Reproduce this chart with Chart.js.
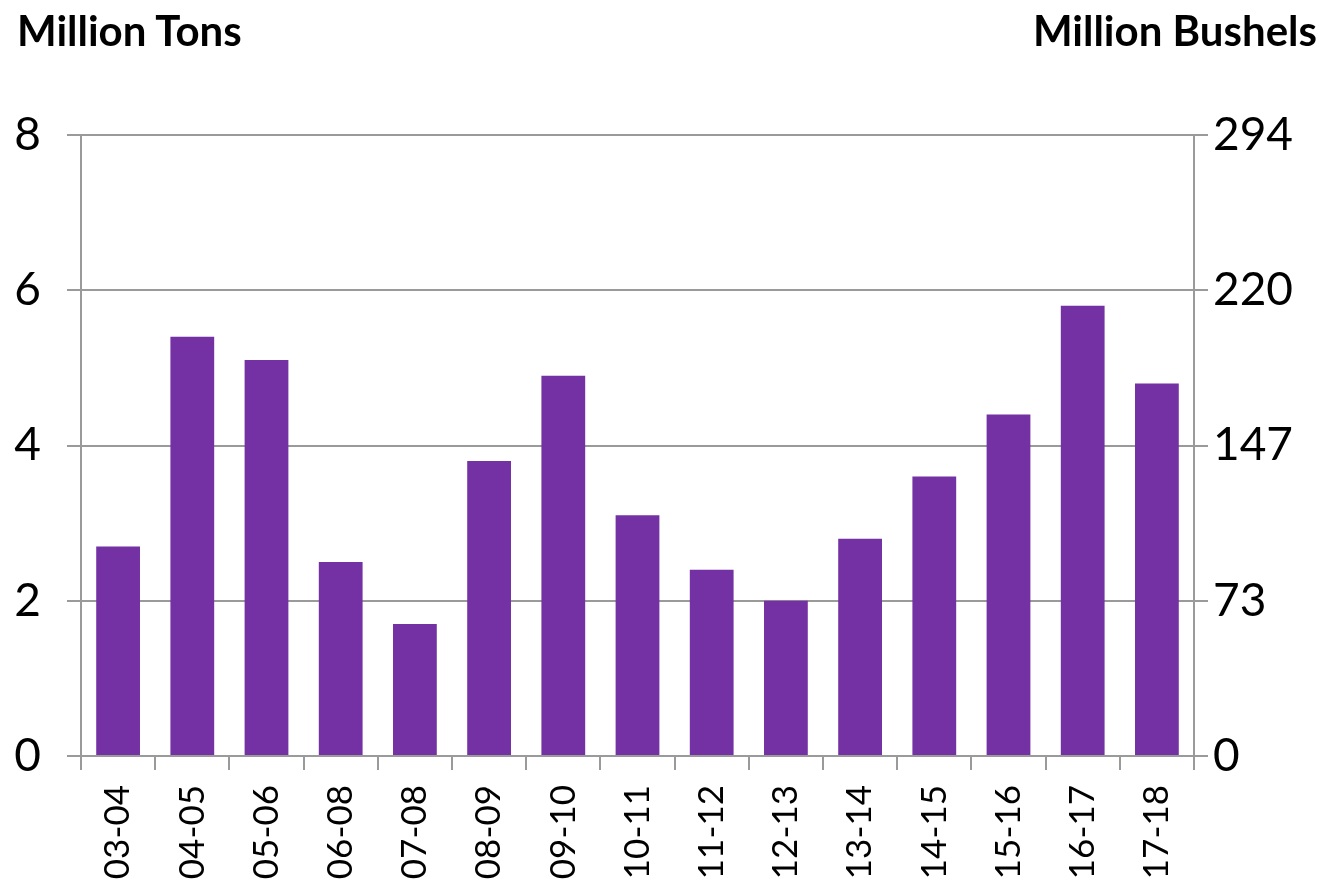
<!DOCTYPE html>
<html>
<head>
<meta charset="utf-8">
<script src="https://cdn.jsdelivr.net/npm/chart.js@4"></script>
<style>
  body { margin: 0; background: #fff; }
  #wrap { position: relative; width: 1323px; height: 884px; }
  .unit { position: absolute; top: 5px; font-family: Lato, sans-serif; font-weight: bold; font-size: 42px; color: #000; }
  #leftUnit { left: 17px; }
  #rightUnit { right: 6px; }
</style>
</head>
<body>
<div id="wrap">
  <canvas id="cropChart" width="1323" height="884"></canvas>
  <div class="unit" id="leftUnit">Million Tons</div>
  <div class="unit" id="rightUnit">Million Bushels</div>
</div>
<script>
// marketing years
const seasons = ['03-04', '04-05', '05-06', '06-08', '07-08', '08-09', '09-10', '10-11',
                 '11-12', '12-13', '13-14', '14-15', '15-16', '16-17', '17-18'];
// million tons
const tons = [2.7, 5.4, 5.1, 2.5, 1.7, 3.8, 4.9, 3.1, 2.4, 2.0, 2.8, 3.6, 4.4, 5.8, 4.8];
// right-hand axis labels (same gridlines, bushel equivalents)
const bushelLabels = ['0', '73', '147', '220', '294'];

const gridGray = '#9a9a9a';
const tickFont = { family: 'Lato, sans-serif', size: 46 };

document.addEventListener('DOMContentLoaded', function() {
    const ctx = document.getElementById('cropChart').getContext('2d');
    new Chart(ctx, {
        type: 'bar',
        data: {
            labels: seasons,
            datasets: [{
                label: 'Million Tons',
                data: tons,
                backgroundColor: '#7331A3',
                barPercentage: 0.59,
                categoryPercentage: 1.0,
                yAxisID: 'y'
            }]
        },
        options: {
            responsive: false,
            animation: false,
            maintainAspectRatio: false,
            layout: { padding: { top: 135, left: 0, right: 0, bottom: 0 } },
            plugins: { legend: { display: false }, tooltip: { enabled: false } },
            scales: {
                x: {
                    grid: { drawOnChartArea: false, drawTicks: true, tickLength: 14, color: gridGray, lineWidth: 2 },
                    border: { display: true, color: gridGray, width: 2 },
                    ticks: { font: { family: 'Lato, sans-serif', size: 35 }, color: '#000', minRotation: 90, maxRotation: 90, padding: 15 },
                    afterFit: function(scale) { scale.height = 128; }
                },
                y: {
                    position: 'left',
                    min: 0, max: 8,
                    grid: { color: gridGray, lineWidth: 2, tickLength: 14 },
                    border: { display: true, color: gridGray, width: 2 },
                    ticks: { stepSize: 2, font: tickFont, color: '#000', padding: 26 },
                    afterFit: function(scale) { scale.width = 81; }
                },
                y2: {
                    position: 'right',
                    min: 0, max: 8,
                    grid: { drawOnChartArea: false, color: gridGray, lineWidth: 2, tickLength: 14 },
                    border: { display: true, color: gridGray, width: 2 },
                    ticks: {
                        stepSize: 2, font: tickFont, color: '#000', padding: 5,
                        callback: function(value, index) { return bushelLabels[index]; }
                    },
                    afterFit: function(scale) { scale.width = 129; }
                }
            }
        }
    });
});
</script>
</body>
</html>
